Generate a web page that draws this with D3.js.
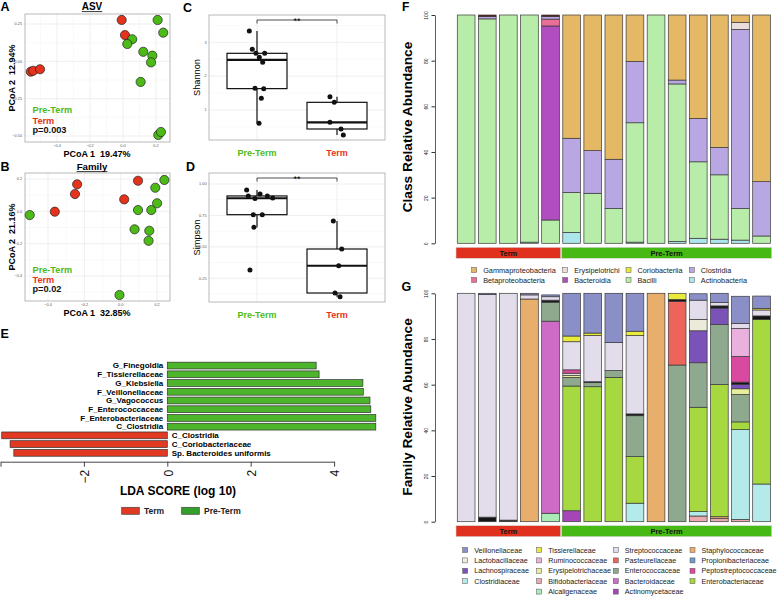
<!DOCTYPE html>
<html>
<head>
<meta charset="utf-8">
<script src="https://cdn.jsdelivr.net/npm/d3@7"></script>
<style>
  body { margin: 0; background: #fff; }
  text { font-family: "Liberation Sans", Arial, sans-serif; }
</style>
</head>
<body>
<div id="chart"></div>
<script>
// ---------- data ----------
// A / B : PCoA coordinates (5 Term, 10 Pre-Term)
var pcoaGroup = ["Term","Term","Term","Term","Term",
  "Pre-Term","Pre-Term","Pre-Term","Pre-Term","Pre-Term","Pre-Term","Pre-Term","Pre-Term","Pre-Term","Pre-Term"];
var asvPC1 = [-0.559,-0.544,-0.503,-0.008,0.012, 0.210,0.244,0.056,0.026,0.123,0.178,0.170,0.107,0.214,0.230];
var asvPC2 = [-0.069,-0.063,-0.053,0.277,0.176, 0.277,0.192,0.148,0.116,0.064,0.038,-0.007,-0.138,-0.493,-0.473];
var famPC1 = [-0.363,-0.252,-0.240,0.019,0.095, -0.501,-0.007,0.095,0.076,0.157,0.153,0.168,0.200,0.190,0.240];
var famPC2 = [-0.002,0.107,0.167,0.074,0.189, -0.023,-0.517,0.008,-0.111,-0.120,-0.182,0.008,0.050,0.146,0.194];

// C / D : alpha diversity
var alphaGroups = ["Pre-Term","Term"];
var shannonPre  = [3.334,2.793,2.675,2.557,2.675,2.409,1.641,1.629,1.346,0.607];
var shannonTerm = [1.393,1.227,0.637,0.439,0.261];
var simpsonPre  = [0.952,0.905,0.884,0.920,0.905,0.889,0.756,0.756,0.656,0.316];
var simpsonTerm = [0.706,0.483,0.350,0.133,0.103];
// horizontal jitter, fraction of category step
var jitShannonPre  = [-0.096,-0.059,-0.013,0.029,0.096,0.071,-0.025,0.084,0.054,0.025];
var jitShannonTerm = [-0.088,-0.034,-0.088,0.05,0.079];
var jitSimpsonPre  = [-0.129,-0.109,-0.025,0.038,0.129,0.196,-0.046,0.066,-0.038,-0.088];
var jitSimpsonTerm = [-0.046,0.059,0.021,-0.025,0.038];

// E : LEfSe
var ldaLabels = ["G_Finegoldia","F_Tissierellaceae","G_Klebsiella","F_Veillonellaceae","G_Vagococcus",
  "F_Enterococcaceae","F_Enterobacteriaceae","C_Clostridia","C_Clostridia","C_Coriobacteriaceae","Sp. Bacteroides uniformis"];
var ldaScores = [3.57,3.64,4.69,4.70,4.86,4.88,5.0,5.0,-3.97,-3.77,-3.68];
var ldaGroup = ["Pre-Term","Pre-Term","Pre-Term","Pre-Term","Pre-Term","Pre-Term","Pre-Term","Pre-Term","Term","Term","Term"];

// F / G : samples
var samples = ["T1","T2","T3","T4","T5","P1","P2","P3","P4","P5","P6","P7","P8","P9","P10"];
var sampleGroup = ["Term","Term","Term","Term","Term",
  "Pre-Term","Pre-Term","Pre-Term","Pre-Term","Pre-Term","Pre-Term","Pre-Term","Pre-Term","Pre-Term","Pre-Term"];

// F : class abundance (%), bottom to top
var actinobacteria      = [0,0,0,0.5,0, 4.8,0,0,0.5,0,0.8,2.2,1.8,1.4,0];
var bacilli             = [100,98.3,100,99.5,10.2, 17.4,21.9,15.2,52.3,100,69,33.5,28.2,13.8,3.2];
var bacteroidia         = [0,0,0,0,85, 0,0,0,0,0,0,0,0,0,0];
var betaproteobacteria  = [0,0,0,0,3, 0,0,0,0,0,0,0,0,0,0];
var clostridia          = [0,1.0,0,0,1.1, 23.8,18.7,21.6,26.9,0,1.7,19,12,78.5,23.8];
var coriobacteriia      = [0,0,0,0,0, 0,0,0,0,0,0,0,0,0,0];
var erysipelotrichi     = [0,0,0,0,0, 0,0,0,0,0,0,0,0,3.1,0];
var gammaproteobacteria = [0,0,0,0,0, 54,59.4,63.2,20.3,0,28.5,45.3,58,3.2,73];
var classOther          = [0,0.7,0,0,0.7, 0,0,0,0,0,0,0,0,0,0];

// G : family abundance (%), bottom to top
var actinomycetaceae      = [0,0,0,0,0, 4.8,0,0,0,0,0,0,0,0,0];
var alcaligenaceae        = [0,0,0,0,3.7, 0,0,0,0,0,0,0,0,0,0];
var bifidobacteriaceae    = [0,0,0,0,0, 0,0,0,0,0,0,2.5,1.5,1,0];
var staphylococcaceae     = [0,0,0,97.5,0, 0,0,0,0,100,0,0,0.7,0,0];
var clostridiaceae        = [0,0,0,0,0, 0,0,0,8.1,0,0,1.9,0,39.3,16.5];
var enterobacteriaceae    = [0,0,0,0,0, 54.6,59.1,63.2,20.4,0,0,45.7,57.9,3.4,72.1];
var bacteroidaceae        = [0,0,0,0,84.1, 0,0,0,0,0,0,0,0,0,0];
var enterococcaceae       = [0,0,0,0,8.3, 3.8,1.8,3.0,17.9,0,68.6,19.5,26.2,12,0];
var pasteurellaceae       = [0,0,0,0,0, 0,0,0,0,0,27.9,0,0,0,0];
var erysipelotrichaceae   = [0,0,0,0,0, 0.9,0,0,0,0,0,0,0,2.5,0];
var lachnospiraceae       = [0,0,0,0,0, 0,0,0,0,0,0,14,7.2,1.9,0];
var lactobacillaceae      = [0,0,0,0,0, 0.9,0,0,0,0,0,5,0,0,0];
var propionibacteriaceae  = [0,0,0,0,0, 0,0,0,0,0,0,0,0,0,0];
var familyOther           = [0,2,0.7,0,0.9, 0,0.4,0,0.8,0,0.8,0,1,1,1.5];
var peptostreptococcaceae = [0,0,0,0,0, 1.5,0,0,0,0,0,0,0,11.3,0];
var ruminococcaceae       = [0,0,0,0,0, 0,0,0,0,0,0,0,0,12.2,0];
var streptococcaceae      = [100,97.5,99.3,1.8,1.5, 12.3,20.2,12.3,34.3,0,0,8.4,1.5,2.2,2.6];
var tissierellaceae       = [0,0,0,0,0, 2.5,1.1,0,1.9,0,2.7,0,0,0,0.7];
var veillonellaceae       = [0,0.5,0,0.7,0.8, 18.7,17.4,21.5,16.6,0,0,2.8,4,11.9,5.4];

var pctTicks = [0,20,40,60,80,100];

// ---------- colours ----------
var RED = "#e5321d", GREEN = "#4cbb17";
var classColors = {
  Actinobacteria:"#abe6ea", Bacilli:"#b8eca9", Bacteroidia:"#b04dbf", Betaproteobacteria:"#ea6f98",
  Clostridia:"#b8a7e2", Coriobacteriia:"#e6ea40", Erysipelotrichi:"#e9dedb", Gammaproteobacteria:"#e5b865",
  Other:"#5a1c1c"
};
var familyColors = {
  Actinomycetaceae:"#a645b9", Alcaligenaceae:"#aaeab6", Bifidobacteriaceae:"#e9a9ae", Staphylococcaceae:"#e8ae6c",
  Clostridiaceae:"#b5eaeb", Enterobacteriaceae:"#a6d840", Bacteroidaceae:"#ce6bc7", Enterococcaceae:"#8fa98f",
  Pasteurellaceae:"#ec645a", Erysipelotrichaceae:"#e6ee9b", Lachnospiraceae:"#7b52b8", Lactobacillaceae:"#ecebd9",
  Propionibacteriaceae:"#6f9bc9", Other:"#151515", Peptostreptococcaceae:"#d9499f", Ruminococcaceae:"#eab1de",
  Streptococcaceae:"#e3dcea", Tissierellaceae:"#eaea3c", Veillonellaceae:"#8b8fc8"
};

var W = 778, H = 596;
var svg = d3.select("#chart").append("svg").attr("width", W).attr("height", H);
svg.append("rect").attr("width", W).attr("height", H).attr("fill", "#fff");

function label(txt, x, y, size) {
  svg.append("text").attr("x", x).attr("y", y).attr("font-size", size || 12.5)
    .attr("font-weight", "bold").text(txt);
}

function minorOf(major, dom) {
  var s = major[1] - major[0], out = [];
  out.push(major[0] - s / 2);
  major.forEach(function(v) { out.push(v + s / 2); });
  var lo = Math.min(dom[0], dom[1]), hi = Math.max(dom[0], dom[1]);
  return out.filter(function(v) { return v > lo && v < hi; });
}

// ---------- A / B ----------
function pcoa(o) {
  var g = svg.append("g");
  var x = d3.scaleLinear().domain(o.xDom).range([25, 170]);
  var y = d3.scaleLinear().domain(o.yDom).range([o.y1, o.y0]);

  g.selectAll(".gx2").data(minorOf(o.xTicks, o.xDom)).join("line")
    .attr("x1", x).attr("x2", x).attr("y1", o.y0).attr("y2", o.y1).attr("stroke", "#f3f3f3").attr("stroke-width", 0.5);
  g.selectAll(".gy2").data(minorOf(o.yTicks, o.yDom)).join("line")
    .attr("y1", y).attr("y2", y).attr("x1", 25).attr("x2", 170).attr("stroke", "#f3f3f3").attr("stroke-width", 0.5);
  g.selectAll(".gx").data(o.xTicks).join("line")
    .attr("x1", x).attr("x2", x).attr("y1", o.y0).attr("y2", o.y1).attr("stroke", "#e8e8e8").attr("stroke-width", 0.7);
  g.selectAll(".gy").data(o.yTicks).join("line")
    .attr("y1", y).attr("y2", y).attr("x1", 25).attr("x2", 170).attr("stroke", "#e8e8e8").attr("stroke-width", 0.7);
  g.append("rect").attr("x", 25).attr("y", o.y0).attr("width", 145).attr("height", o.y1 - o.y0)
    .attr("fill", "none").attr("stroke", "#a8a8a8").attr("stroke-width", 0.8);

  g.selectAll(".tx").data(o.xTicks).join("text").attr("x", x).attr("y", o.y1 + 5)
    .attr("text-anchor", "middle").attr("font-size", 3.8).attr("fill", "#555").text(d3.format(".1f"));
  g.selectAll(".ty").data(o.yTicks).join("text").attr("x", 22).attr("y", y).attr("dy", "0.35em")
    .attr("text-anchor", "end").attr("font-size", 3.8).attr("fill", "#555").text(d3.format(o.yFmt));

  g.selectAll("circle").data(o.pc1).join("circle")
    .attr("cx", function(d) { return x(d); })
    .attr("cy", function(d, i) { return y(o.pc2[i]); })
    .attr("r", 4.6)
    .attr("fill", function(d, i) { return pcoaGroup[i] === "Term" ? RED : GREEN; })
    .attr("stroke", "#222").attr("stroke-width", 0.7);

  var leg = [["Pre-Term", GREEN], ["Term", RED], [o.p, "#111"]];
  g.selectAll(".leg").data(leg).join("text")
    .attr("x", 32.5).attr("y", function(d, i) { return o.legY[i]; })
    .attr("font-size", 9.2).attr("font-weight", "bold").attr("fill", function(d) { return d[1]; })
    .text(function(d) { return d[0]; });

  var t = g.append("text").attr("x", 92).attr("y", o.titleY).attr("text-anchor", "middle")
    .attr("font-size", o.titleSize).attr("font-weight", "bold").text(o.title);
  var tw = t.node().getComputedTextLength();
  g.append("line").attr("x1", 92 - tw / 2).attr("x2", 92 + tw / 2).attr("y1", o.titleY + 1.6).attr("y2", o.titleY + 1.6)
    .attr("stroke", "#000").attr("stroke-width", 0.8);

  g.append("text").attr("x", 97).attr("y", o.y1 + 14.5).attr("text-anchor", "middle")
    .attr("font-size", 9).attr("font-weight", "bold").attr("xml:space", "preserve").text(o.xLab);
  g.append("text").attr("transform", "translate(15," + ((o.y0 + o.y1) / 2) + ") rotate(-90)")
    .attr("text-anchor", "middle").attr("font-size", 9).attr("font-weight", "bold")
    .attr("xml:space", "preserve").text(o.yLab);
}

pcoa({ xDom: [-0.594, 0.285], yDom: [-0.54, 0.317], y0: 14, y1: 142,
  xTicks: [-0.4, -0.2, 0, 0.2], yTicks: [-0.5, -0.25, 0, 0.25], yFmt: ".2f",
  pc1: asvPC1, pc2: asvPC2, p: "p=0.003", legY: [113, 123.5, 132.5],
  title: "ASV", titleY: 10, titleSize: 10, xLab: "PCoA 1  19.47%", yLab: "PCoA 2  12.94%" });
pcoa({ xDom: [-0.527, 0.271], yDom: [-0.554, 0.237], y0: 173, y1: 301,
  xTicks: [-0.4, -0.2, 0, 0.2], yTicks: [-0.4, -0.2, 0, 0.2], yFmt: ".1f",
  pc1: famPC1, pc2: famPC2, p: "p=0.02", legY: [273, 283, 291.5],
  title: "Family", titleY: 170, titleSize: 9.7, xLab: "PCoA 1  32.85%", yLab: "PCoA 2  21.16%" });

// ---------- C / D ----------
function alpha(o) {
  var g = svg.append("g");
  var x = d3.scalePoint().domain(alphaGroups).range([209, 385]).padding(0.6);
  var step = x.step();
  var y = d3.scaleLinear().domain(o.yDom).range([o.y1, o.y0]);

  g.selectAll(".gy2").data(minorOf(o.yTicks, o.yDom)).join("line")
    .attr("y1", y).attr("y2", y).attr("x1", 209).attr("x2", 385).attr("stroke", "#f3f3f3").attr("stroke-width", 0.5);
  g.selectAll(".gy").data(o.yTicks).join("line")
    .attr("y1", y).attr("y2", y).attr("x1", 209).attr("x2", 385).attr("stroke", "#e8e8e8").attr("stroke-width", 0.7);
  g.selectAll(".gx").data(alphaGroups).join("line")
    .attr("x1", x).attr("x2", x).attr("y1", o.y0).attr("y2", o.y1).attr("stroke", "#e8e8e8").attr("stroke-width", 0.7);
  g.append("rect").attr("x", 209).attr("y", o.y0).attr("width", 176).attr("height", o.y1 - o.y0)
    .attr("fill", "none").attr("stroke", "#a8a8a8").attr("stroke-width", 0.8);
  g.selectAll(".ty").data(o.yTicks).join("text").attr("x", 206.5).attr("y", y).attr("dy", "0.35em")
    .attr("text-anchor", "end").attr("font-size", 3.8).attr("fill", "#555").text(d3.format(o.yFmt));

  o.sets.forEach(function(vals, k) {
    var cx = x(alphaGroups[k]);
    var s = vals.slice().sort(d3.ascending);
    var q1 = d3.quantile(s, 0.25), md = d3.quantile(s, 0.5), q3 = d3.quantile(s, 0.75);
    var iqr = q3 - q1;
    var lo = d3.min(s.filter(function(v) { return v >= q1 - 1.5 * iqr; }));
    var hi = d3.max(s.filter(function(v) { return v <= q3 + 1.5 * iqr; }));
    var bw = step * 0.75;
    g.append("line").attr("x1", cx).attr("x2", cx).attr("y1", y(hi)).attr("y2", y(q3)).attr("stroke", "#111").attr("stroke-width", 1.2);
    g.append("line").attr("x1", cx).attr("x2", cx).attr("y1", y(q1)).attr("y2", y(lo)).attr("stroke", "#111").attr("stroke-width", 1.2);
    g.append("rect").attr("x", cx - bw / 2).attr("width", bw).attr("y", y(q3)).attr("height", y(q1) - y(q3))
      .attr("fill", "#fff").attr("stroke", "#111").attr("stroke-width", 1.2);
    g.append("line").attr("x1", cx - bw / 2).attr("x2", cx + bw / 2).attr("y1", y(md)).attr("y2", y(md))
      .attr("stroke", "#111").attr("stroke-width", 2.2);
    g.selectAll(".pt" + k).data(vals).join("circle")
      .attr("cx", function(d, i) { return cx + o.jit[k][i] * step; })
      .attr("cy", function(d) { return y(d); })
      .attr("r", 2.5).attr("fill", "#111");
  });

  var by = o.y0 + 5;
  var xa = x(alphaGroups[0]), xb = x(alphaGroups[1]);
  g.append("path").attr("d", "M" + xa + "," + (by + 3.5) + "V" + by + "H" + xb + "V" + (by + 3.5))
    .attr("fill", "none").attr("stroke", "#222").attr("stroke-width", 0.8);
  g.append("text").attr("x", (xa + xb) / 2).attr("y", by + 3.6).attr("text-anchor", "middle")
    .attr("font-size", 9).text("**");

  g.selectAll(".cat").data(alphaGroups).join("text")
    .attr("x", x).attr("y", o.y1 + 16).attr("text-anchor", "middle").attr("font-size", 9).attr("font-weight", "bold")
    .attr("fill", function(d) { return d === "Term" ? RED : GREEN; }).text(function(d) { return d; });
  g.append("text").attr("transform", "translate(199.5," + ((o.y0 + o.y1) / 2) + ") rotate(-90)")
    .attr("text-anchor", "middle").attr("font-size", 9.2).text(o.yLab);
}

alpha({ yDom: [0.114, 3.807], y0: 15, y1: 140, yTicks: [1, 2, 3], yFmt: "d",
  sets: [shannonPre, shannonTerm], jit: [jitShannonPre, jitShannonTerm], yLab: "Shannon" });
alpha({ yDom: [0.0615, 1.0875], y0: 173, y1: 302, yTicks: [0.25, 0.5, 0.75, 1], yFmt: ".2f",
  sets: [simpsonPre, simpsonTerm], jit: [jitSimpsonPre, jitSimpsonTerm], yLab: "Simpson" });

// ---------- E ----------
(function() {
  var g = svg.append("g");
  var ex = d3.scaleLinear().domain([-4, 4]).range([0.5, 334.1]);
  var ey = d3.scaleBand().domain(d3.range(ldaLabels.length)).range([361.3, 457.1]).paddingInner(0.22).paddingOuter(0.1);
  g.selectAll("rect.bar").data(ldaScores).join("rect")
    .attr("x", function(d) { return Math.min(ex(0), ex(d)); })
    .attr("width", function(d) { return Math.abs(ex(d) - ex(0)); })
    .attr("y", function(d, i) { return ey(i); })
    .attr("height", ey.bandwidth())
    .attr("fill", function(d, i) { return ldaGroup[i] === "Term" ? "#e23a22" : "#4db52c"; })
    .attr("stroke", "#333").attr("stroke-width", 0.7);
  g.selectAll("text.lab").data(ldaLabels).join("text")
    .attr("x", function(d, i) { return ldaScores[i] > 0 ? ex(0) - 4 : ex(0) + 4.4; })
    .attr("y", function(d, i) { return ey(i) + ey.bandwidth() / 2; })
    .attr("dy", "0.35em")
    .attr("text-anchor", function(d, i) { return ldaScores[i] > 0 ? "end" : "start"; })
    .attr("font-size", 8).attr("font-weight", "bold").text(function(d) { return d; });

  var ax = g.append("g").attr("transform", "translate(0,461.7)")
    .call(d3.axisBottom(ex).tickValues([-4, -2, 0, 2, 4]).tickSize(5).tickSizeOuter(0)
      .tickFormat(function(d) { return d === -4 ? "" : d3.format("d")(d); }));
  ax.select(".domain").attr("stroke", "#444");
  ax.selectAll(".tick line").attr("stroke", "#444");
  ax.selectAll(".tick text").attr("transform", "rotate(-90)").attr("text-anchor", "end")
    .attr("x", -8).attr("y", 4.8).attr("dy", null).attr("font-size", 12).attr("fill", "#111")
    .attr("font-family", "Liberation Sans, Arial, sans-serif");

  g.append("text").attr("x", 178).attr("y", 495).attr("text-anchor", "middle")
    .attr("font-size", 12).attr("font-weight", "bold").text("LDA SCORE (log 10)");

  var leg = [["Term", "#e23a22", 121.7], ["Pre-Term", "#33a02c", 181.7]];
  leg.forEach(function(d) {
    g.append("rect").attr("x", d[2]).attr("y", 507.3).attr("width", 17.6).attr("height", 7)
      .attr("fill", d[1]).attr("stroke", "#444").attr("stroke-width", 0.7);
    g.append("text").attr("x", d[2] + 22.3).attr("y", 513.5).attr("font-size", 8.5).attr("font-weight", "bold")
      .attr("fill", "#222").text(d[0]);
  });
})();

// ---------- F / G ----------
function stackPanel(o) {
  var g = svg.append("g");
  var x = d3.scaleBand().domain(samples).range([455.6, 772.1]).paddingInner(0.16).paddingOuter(0.08);
  var y = d3.scaleLinear().domain([0, 100]).range([o.y1, o.y0]);
  var keys = o.series.map(function(d) { return d[0]; });
  var table = samples.map(function(s, i) {
    var r = { sample: s };
    o.series.forEach(function(d) { r[d[0]] = d[1][i]; });
    return r;
  });
  var layers = d3.stack().keys(keys)(table);

  g.selectAll("g.layer").data(layers).join("g").attr("fill", function(d) { return o.colors[d.key]; })
    .selectAll("rect").data(function(d) { return d.filter(function(s) { return s[1] > s[0]; }); }).join("rect")
    .attr("x", function(d) { return x(d.data.sample); })
    .attr("width", x.bandwidth())
    .attr("y", function(d) { return y(d[1]); })
    .attr("height", function(d) { return y(d[0]) - y(d[1]); })
    .attr("stroke", "#3a3a3a").attr("stroke-width", 0.7);

  var ay = g.append("g").attr("transform", "translate(435,0)")
    .call(d3.axisLeft(y).tickValues(pctTicks).tickSize(3.5).tickSizeOuter(0));
  ay.select(".domain").attr("stroke", "#333").attr("stroke-width", 0.8);
  ay.selectAll(".tick line").attr("stroke", "#333");
  ay.selectAll(".tick text").attr("transform", "rotate(-90)").attr("text-anchor", "middle")
    .attr("x", 0).attr("y", -7).attr("dy", null).attr("font-size", 5).attr("fill", "#222");

  g.append("text").attr("transform", "translate(411.5," + o.titleY + ") rotate(-90)")
    .attr("text-anchor", "middle").attr("font-size", 13.7).attr("font-weight", "bold").text(o.title);

  var groups = d3.groups(samples, function(s) { return sampleGroup[samples.indexOf(s)]; });
  groups.forEach(function(gr) {
    var first = gr[1][0], last = gr[1][gr[1].length - 1];
    var x0 = x(first) - 1.3, x1 = x(last) + x.bandwidth() + 1.3;
    g.append("rect").attr("x", x0).attr("y", o.y1 + 4).attr("width", x1 - x0).attr("height", 11)
      .attr("fill", gr[0] === "Term" ? "#e0301e" : "#47b915").attr("stroke", "#d8d8d8").attr("stroke-width", 0.6);
    g.append("text").attr("x", (x0 + x1) / 2).attr("y", o.y1 + 12.3).attr("text-anchor", "middle")
      .attr("font-size", 7.5).attr("font-weight", "bold").attr("fill", "#111").text(gr[0]);
  });

  o.legend.forEach(function(col, ci) {
    col.forEach(function(name, ri) {
      var cy = o.legRow0 + ri * o.legStep;
      g.append("rect").attr("x", o.legCols[ci]).attr("y", cy - 2.5).attr("width", 5).attr("height", 5)
        .attr("fill", o.colors[name]).attr("stroke", "#555").attr("stroke-width", 0.5);
      g.append("text").attr("x", o.legCols[ci] + 11.5).attr("y", cy).attr("dy", "0.35em")
        .attr("font-size", o.legFont).attr("fill", "#222").text(name);
    });
  });
}

stackPanel({
  y0: 15, y1: 243.3, title: "Class Relative Abundance", titleY: 127, colors: classColors,
  series: [["Actinobacteria", actinobacteria], ["Bacilli", bacilli], ["Bacteroidia", bacteroidia],
    ["Betaproteobacteria", betaproteobacteria], ["Clostridia", clostridia], ["Coriobacteriia", coriobacteriia],
    ["Erysipelotrichi", erysipelotrichi], ["Gammaproteobacteria", gammaproteobacteria], ["Other", classOther]],
  legend: [["Gammaproteobacteria", "Betaproteobacteria"], ["Erysipelotrichi", "Bacteroidia"],
    ["Coriobacteriia", "Bacilli"], ["Clostridia", "Actinobacteria"]],
  legCols: [471.7, 562.7, 626, 689.3], legRow0: 270, legStep: 10, legFont: 7.3
});

stackPanel({
  y0: 293.3, y1: 521.7, title: "Family Relative Abundance", titleY: 407, colors: familyColors,
  series: [["Actinomycetaceae", actinomycetaceae], ["Alcaligenaceae", alcaligenaceae],
    ["Bifidobacteriaceae", bifidobacteriaceae], ["Staphylococcaceae", staphylococcaceae],
    ["Clostridiaceae", clostridiaceae], ["Enterobacteriaceae", enterobacteriaceae],
    ["Bacteroidaceae", bacteroidaceae], ["Enterococcaceae", enterococcaceae],
    ["Pasteurellaceae", pasteurellaceae], ["Erysipelotrichaceae", erysipelotrichaceae],
    ["Lachnospiraceae", lachnospiraceae], ["Lactobacillaceae", lactobacillaceae],
    ["Propionibacteriaceae", propionibacteriaceae], ["Other", familyOther],
    ["Peptostreptococcaceae", peptostreptococcaceae], ["Ruminococcaceae", ruminococcaceae],
    ["Streptococcaceae", streptococcaceae], ["Tissierellaceae", tissierellaceae],
    ["Veillonellaceae", veillonellaceae]],
  legend: [["Veillonellaceae", "Lactobacillaceae", "Lachnospiraceae", "Clostridiaceae"],
    ["Tissierellaceae", "Ruminococcaceae", "Erysipelotrichaceae", "Bifidobacteriaceae", "Alcaligenaceae"],
    ["Streptococcaceae", "Pasteurellaceae", "Enterococcaceae", "Bacteroidaceae", "Actinomycetaceae"],
    ["Staphylococcaceae", "Propionibacteriaceae", "Peptostreptococcaceae", "Enterobacteriaceae"]],
  legCols: [462.7, 536.7, 613.3, 690], legRow0: 550, legStep: 10.4, legFont: 7.2
});

// ---------- panel letters ----------
label("A", 0.5, 11, 12.5);
label("B", 0.5, 171, 12.5);
label("C", 183, 11.5, 12.5);
label("D", 186, 171, 12.5);
label("E", 0.5, 337.5, 12.5);
label("F", 402, 11, 12);
label("G", 401.5, 291, 12.5);
</script>
</body>
</html>
